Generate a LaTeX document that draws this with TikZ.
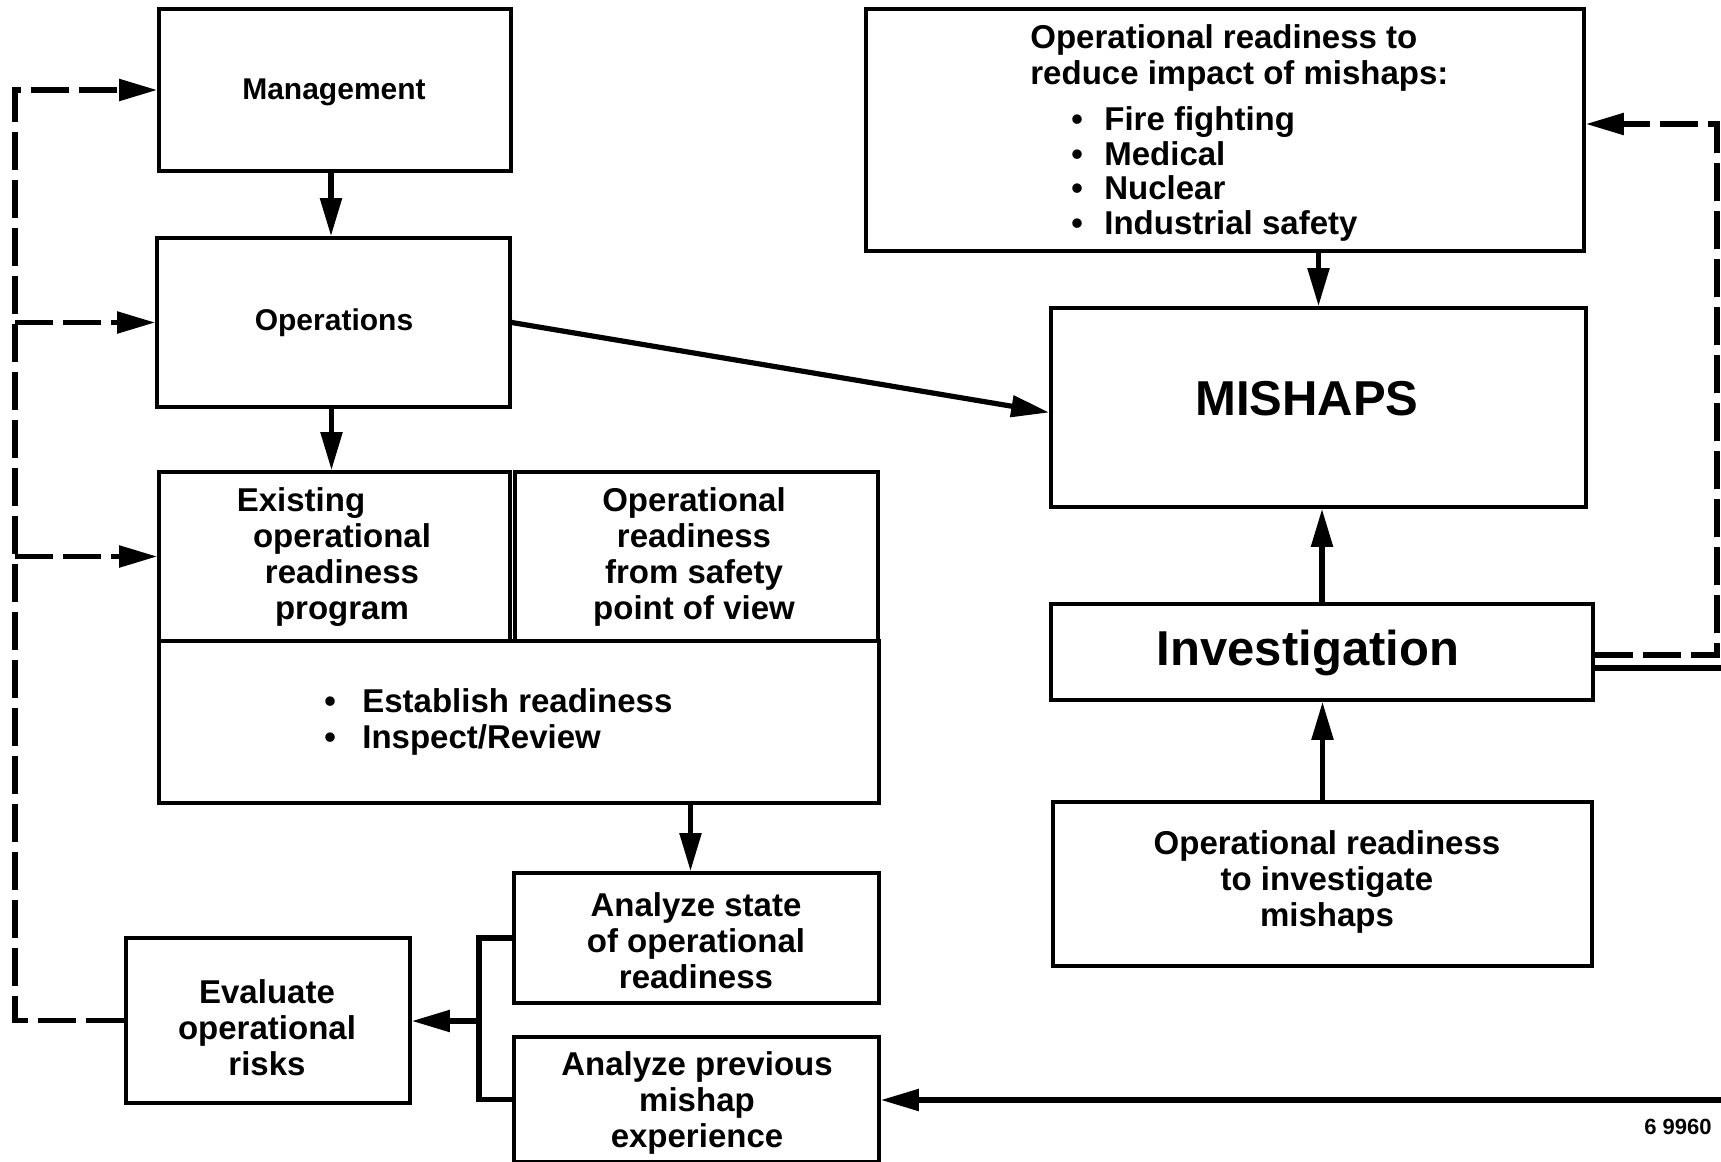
\documentclass[tikz,border=0pt]{standalone}
\usepackage{fontspec}
\setmainfont{Liberation Sans}
\usetikzlibrary{arrows.meta,fit,calc}

\newcommand{\bul}[1]{\makebox[#1][l]{\textbullet}}

\begin{document}
\begin{tikzpicture}[x=0.5pt,y=-0.5pt,
  box/.style={draw, line width=1.8pt, inner sep=0pt},
  txt/.style={font=\bfseries\fontsize{16.5}{18}\selectfont, align=center, inner sep=0pt},
  small/.style={font=\bfseries\fontsize{15}{17}\selectfont, align=center, inner sep=0pt},
  big/.style={font=\bfseries\fontsize{24.5}{28}\selectfont, inner sep=0pt},
  line/.style={line width=2.6pt},
  conn/.style={line, -{Triangle[length=19pt,width=10.5pt]}},
  dconn/.style={conn, dash pattern=on 19pt off 5pt},
]
\useasboundingbox (0,0) rectangle (1721,1162);

% ---- left column ----
\node[box, fit={(159,9)(511,171)}] (mgmt) {};
\node[small] (mgmtT) at (334,92) {Management};
\node[box, fit={(157,238)(510,407)}] (ops) {};
\node[small] (opsT) at (334,323) {Operations};

\node[box, fit={(159,472)(510,641)}] (exist) {};
\node[txt] (existT) at (342,557) {Existing\hspace*{41pt}\\operational\\readiness\\program};

\node[box, fit={(515,472)(878,641)}] (safe) {};
\node[txt] (safeT) at (694,557) {Operational\\readiness\\from safety\\point of view};

\node[box, fit={(159,641)(879,803)}] (bbox) {};
\node[txt, align=left, anchor=west] (bboxT) at (324,722)
  {\bul{19pt}Establish readiness\\\bul{19pt}Inspect/Review};

\node[box, fit={(514,873)(879,1003)}] (astate) {};
\node[txt] (astateT) at (696,941) {Analyze state\\of operational\\readiness};
\node[box, fit={(514,1037)(879,1162)}] (aprev) {};
\node[txt] (aprevT) at (697,1103) {Analyze previous\\mishap\\experience};
\node[box, fit={(126,938)(410,1103)}] (eval) {};
\node[txt] (evalT) at (267,1028) {Evaluate\\operational\\risks};

% ---- right column ----
\node[box, fit={(866,9)(1584,251)}] (orbox) {};
\node[txt, align=left, anchor=west] (orT) at (1030,58)
  {Operational readiness to\\reduce impact of mishaps:};
\node[font=\bfseries\fontsize{16.5}{17.4}\selectfont, align=left, inner sep=0pt, anchor=west] (orL) at (1071,174)
  {\bul{16.5pt}Fire fighting\\\bul{16.5pt}Medical\\\bul{16.5pt}Nuclear\\\bul{16.5pt}Industrial safety};

\node[box, fit={(1051,308)(1586,507)}] (mish) {};
\node[big] (mishT) at (1307,399) {MISHAPS};

\node[box, fit={(1051,604)(1593,700)}] (inv) {};
\node[big] (invT) at (1308,653) {Investigation};

\node[box, fit={(1053,802)(1592,966)}] (oi) {};
\node[txt] (oiT) at (1327,882) {Operational readiness\\to investigate\\mishaps};

\node[font=\bfseries\fontsize{11}{13}\selectfont, inner sep=0pt] (code) at (1678,1127) {6 9960};

% ---- solid connectors ----
\draw[conn] ($(mgmt.south)+(-4,0)$) -- ($(mgmt.south |- ops.north)+(-4,0)$);
\draw[conn] ($(ops.south)+(-2,0)$) -- ($(ops.south |- exist.north)+(-2,0)$);
\draw[conn] (ops.east) -- ($(mish.west)+(0,5)$);
\draw[conn] (mish.north |- orbox.south) -- (mish.north);
\draw[conn] (inv.north) -- (inv.north |- mish.south);
\draw[conn] (oi.north) -- (oi.north |- inv.south);
\draw[conn] ($(astate.north |- bbox.south)+(-6,0)$) -- ($(astate.north)+(-6,0)$);

% bracket joining the two analyses
\coordinate (br) at (479,1021);
\draw[line, line join=miter] (astate.west) -| (br) |- (aprev.west);
\draw[conn] (br) -- (br -| eval.east);

% feedback loop on the left
\coordinate (lt) at (15,90);
\draw[dconn] (eval.west) -| (lt) -- (mgmt.west);
\draw[dconn] (lt |- ops.west) -- (ops.west);
\draw[dconn] (lt |- exist.west) -- (exist.west);

% links leaving the investigation on the right
\coordinate (rt) at (1717,124);
\coordinate (re) at (1721,668);
\coordinate (rb) at (1721,1100);
\draw[dconn] ($(inv.east)+(0,3)$) -| (rt) -- (rt -| orbox.east);
\draw[line] ($(inv.east)+(0,16)$) -- (re);
\draw[conn] (rb) -- (rb -| aprev.east);
\end{tikzpicture}
\end{document}
